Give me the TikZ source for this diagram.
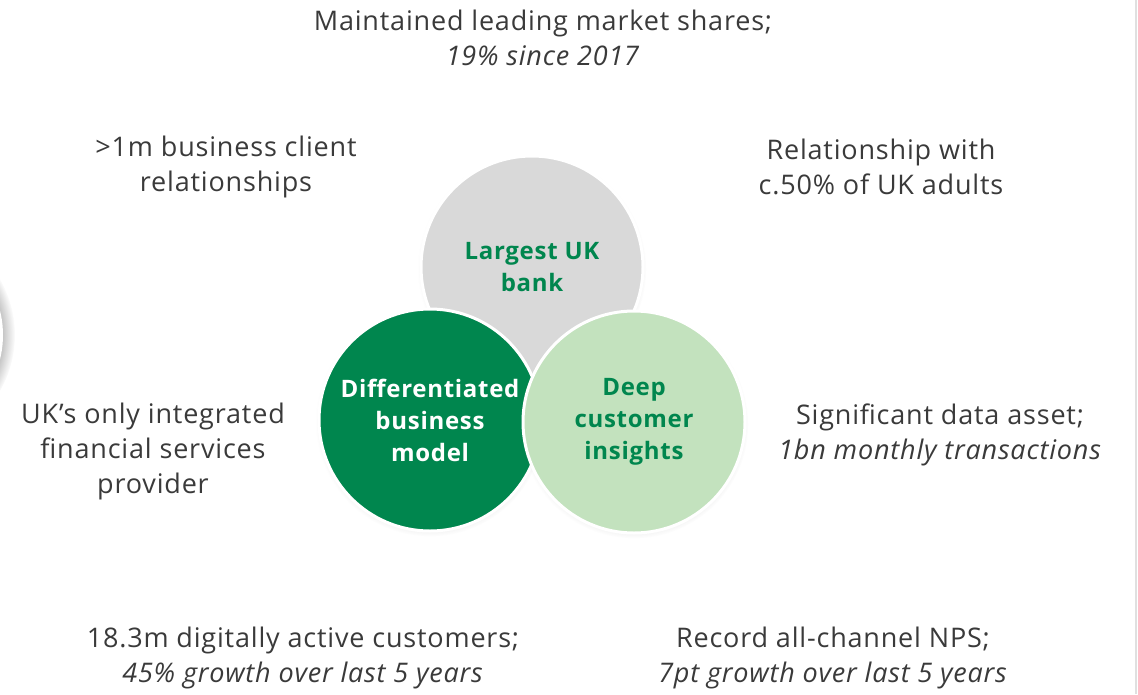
\documentclass[tikz,border=0pt]{standalone}
\usepackage{fontspec}
\setmainfont{Open Sans}[LetterSpace=3]
\usepackage{xcolor}
\usetikzlibrary{shadows}

\definecolor{bankgrey}{HTML}{D9D9D9}
\definecolor{deepgreen}{HTML}{00864E}
\definecolor{palegreen}{HTML}{C3E2BE}
\definecolor{inkgrey}{HTML}{3A3A3A}

\begin{document}
\begin{tikzpicture}[
    x=1pt,y=-1pt,
    pillar/.style={circle,draw=white,line width=3pt,minimum size=222pt,inner sep=0pt,
      circular drop shadow={shadow xshift=0pt,shadow yshift=-2pt,shadow scale=1.03,opacity=0.25}},
    core/.style={align=center,font=\fontsize{24}{32}\selectfont\bfseries},
    fact/.style={align=center,text=inkgrey,font=\fontsize{27}{35}\selectfont}]
  \useasboundingbox (0,0) rectangle (1138,694);
  % ---- edge pieces ----
  \node[circle,fill=white,minimum size=200pt,
    circular drop shadow={shadow xshift=0pt,shadow yshift=0pt,shadow scale=1.12,opacity=0.6}]
    (stub) at (-97,335) {};
  \draw[black!12,line width=1.5pt] (1136,0) -- (1136,694);
  % ---- three pillars, light green on top ----
  \node[pillar,fill=bankgrey]  (bank)     at (532,267) {};
  \node[pillar,fill=deepgreen] (model)    at (430,420) {};
  \node[pillar,fill=palegreen] (insights) at (634,422) {};
  \node[core,text=deepgreen] at (bank.center)     {Largest UK\\bank};
  \node[core,text=white]     at (model.center)    {Differentiated\\business\\model};
  \node[core,text=deepgreen] at (insights.center) {Deep\\customer\\insights};
  % ---- facts around the pillars ----
  \node[fact] (share)    at (543,38)  {Maintained leading market shares;\\\textit{19\% since 2017}};
  \node[fact] (business) at (226,167) {>1m business client\\relationships};
  \node[fact] (adults)   at (881,167) {Relationship with\\c.50\% of UK adults};
  \node[fact] (provider) at (153,451) {UK’s only integrated\\financial services\\provider};
  \node[fact] (data)     at (940,435) {Significant data asset;\\\textit{1bn monthly transactions}};
  \node[fact] (digital)  at (303,658) {18.3m digitally active customers;\\\textit{45\% growth over last 5 years}};
  \node[fact] (nps)      at (833,658) {Record all-channel NPS;\\\textit{7pt growth over last 5 years}};
\end{tikzpicture}
\end{document}
